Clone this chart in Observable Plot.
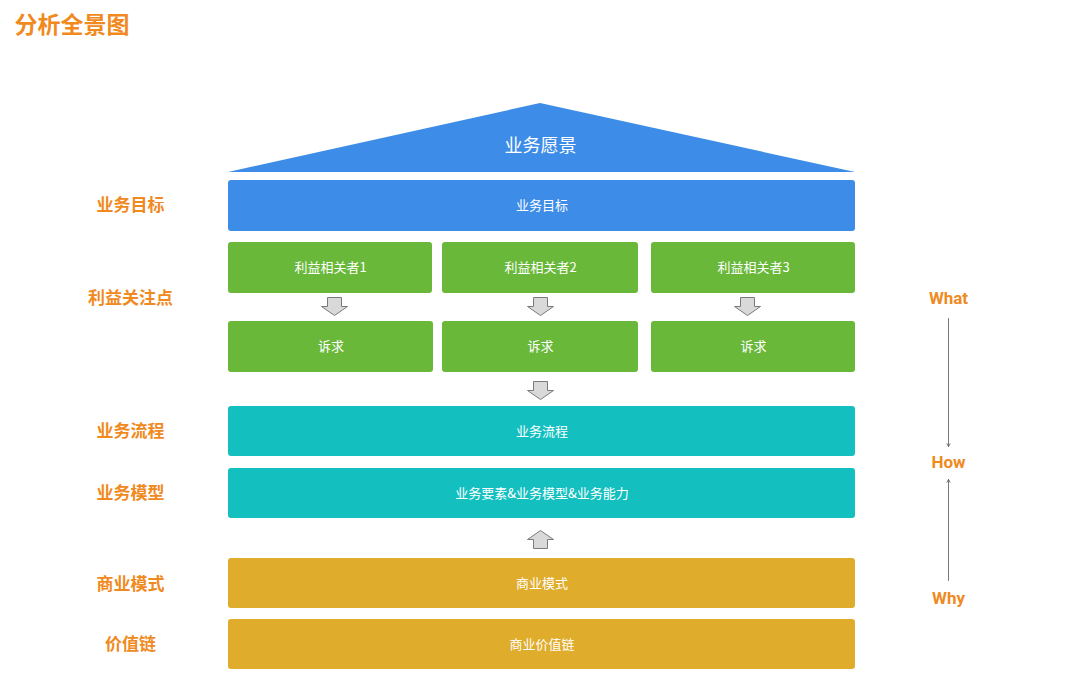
<!DOCTYPE html>
<html><head><meta charset="utf-8">
<script src="https://cdn.jsdelivr.net/npm/d3@7"></script>
<script src="https://cdn.jsdelivr.net/npm/@observablehq/plot@0.6"></script>
<style>body{margin:0;background:#fff}</style>
</head><body><div id="chart"></div>
<script>
// layout in pixel units of the 1080x683 picture
const rowLabels = ["业务目标", "利益关注点", "业务流程", "业务模型", "商业模式", "价值链"];
const rowLabelY = [205, 298, 431, 493, 584, 644];

const boxes = [
  {x1: 228, x2: 855, y1: 180, y2: 231, text: "业务目标", fill: "#3d8de8"},
  {x1: 228, x2: 432, y1: 242, y2: 293, text: "利益相关者1", fill: "#69b83a"},
  {x1: 442, x2: 638, y1: 242, y2: 293, text: "利益相关者2", fill: "#69b83a"},
  {x1: 651, x2: 855, y1: 242, y2: 293, text: "利益相关者3", fill: "#69b83a"},
  {x1: 228, x2: 433, y1: 321, y2: 372, text: "诉求", fill: "#69b83a"},
  {x1: 442, x2: 638, y1: 321, y2: 372, text: "诉求", fill: "#69b83a"},
  {x1: 651, x2: 855, y1: 321, y2: 372, text: "诉求", fill: "#69b83a"},
  {x1: 228, x2: 855, y1: 406, y2: 456, text: "业务流程", fill: "#14bfc0"},
  {x1: 228, x2: 855, y1: 468, y2: 518, text: "业务要素&业务模型&业务能力", fill: "#14bfc0"},
  {x1: 228, x2: 855, y1: 558, y2: 608, text: "商业模式", fill: "#e0ac2b"},
  {x1: 228, x2: 855, y1: 619, y2: 669, text: "商业价值链", fill: "#e0ac2b"}
];

const roof = [{x: 228, y: 172}, {x: 540, y: 103}, {x: 855, y: 172}];
const arrowsDown = [{x: 334, y: 306}, {x: 540, y: 306}, {x: 747, y: 306}, {x: 540, y: 390}];
const arrowsUp = [{x: 540, y: 539}];
const sideWords = [{x: 948, y: 298, t: "What"}, {x: 948, y: 462, t: "How"}, {x: 948, y: 598, t: "Why"}];

const orange = "#f08a1e";

function blockArrow(dir) {
  return {
    draw(ctx) {
      const s = dir; // 1 down, -1 up
      ctx.moveTo(-7, -9 * s); ctx.lineTo(7, -9 * s); ctx.lineTo(7, 0);
      ctx.lineTo(13, 0); ctx.lineTo(0, 9 * s); ctx.lineTo(-13, 0);
      ctx.lineTo(-7, 0); ctx.closePath();
    }
  };
}

const chart = Plot.plot({
  width: 1080, height: 683,
  margin: 0,
  x: {domain: [0, 1080], axis: null},
  y: {domain: [683, 0], axis: null},
  style: {fontFamily: "'Noto Sans CJK SC', sans-serif", background: "#fff"},
  marks: [
    Plot.text(["分析全景图"], {x: 14, y: 25, textAnchor: "start", fontSize: 23, fontWeight: "bold", fill: orange}),
    Plot.areaY(roof, {x: "x", y1: 172, y2: "y", fill: "#3d8de8", curve: "linear"}),
    Plot.text(["业务愿景"], {x: 540, y: 146, fill: "white", fontSize: 18}),
    Plot.rect(boxes, {x1: "x1", x2: "x2", y1: "y1", y2: "y2", fill: "fill", rx: 3}),
    Plot.text(boxes, {x: d => (d.x1 + d.x2) / 2, y: d => (d.y1 + d.y2) / 2, text: "text", fill: "white", fontSize: 13}),
    Plot.dot(arrowsDown, {x: "x", y: "y", symbol: blockArrow(1), fill: "#d9d9d9", stroke: "#7a7a7a", strokeWidth: 1}),
    Plot.dot(arrowsUp, {x: "x", y: "y", symbol: blockArrow(-1), fill: "#d9d9d9", stroke: "#7a7a7a", strokeWidth: 1}),
    Plot.text(rowLabels, {x: 130, y: (d, i) => rowLabelY[i], text: d => d, fill: orange, fontSize: 17, fontWeight: "bold"}),
    Plot.text(sideWords, {x: "x", y: "y", text: "t", fill: orange, fontSize: 17, fontWeight: "bold", fontFamily: "Roboto, sans-serif"}),
    Plot.arrow([{y1: 318, y2: 446}, {y1: 580, y2: 479}], {x1: 948, x2: 948, y1: "y1", y2: "y2", stroke: "#555", strokeWidth: 0.8, headLength: 6})
  ]
});
document.getElementById("chart").append(chart);
</script>
</body></html>
